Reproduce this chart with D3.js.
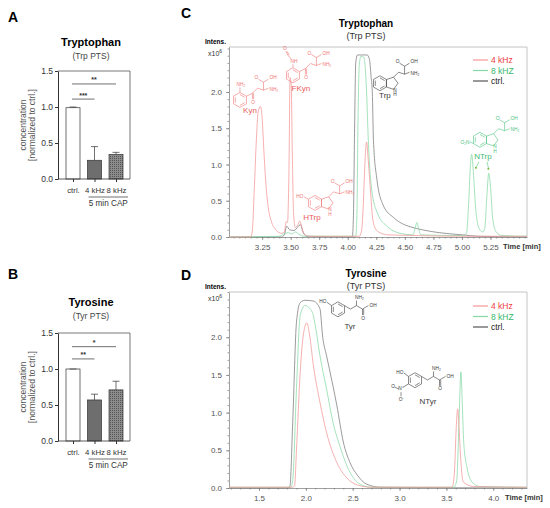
<!DOCTYPE html>
<html>
<head>
<meta charset="utf-8">
<script src="https://cdn.jsdelivr.net/npm/d3@7"></script>
<style>
  body { margin: 0; background: #fff; }
  svg { display: block; }
  text { font-family: "Liberation Sans", Arial, sans-serif; }
</style>
</head>
<body>
<div id="chart"></div>
<script>
const W = 550, H = 508;

// ---- bar panels (A, B) ----
const barCats = ['ctrl.', '4 kHz', '8 kHz'];
const trpBarMean = [0.99, 0.26, 0.34];
const trpBarTop = [1.0, 0.45, 0.37];
const tyrBarMean = [1.0, 0.57, 0.71];
const tyrBarTop = [1.0, 0.65, 0.83];
const barTicks = [0, 0.5, 1.0, 1.5];
const trpSig = [
  {from: 'ctrl.', to: '8 kHz', level: 1.32, label: '**'},
  {from: 'ctrl.', to: '4 kHz', level: 1.11, label: '***'}
];
const tyrSig = [
  {from: 'ctrl.', to: '8 kHz', level: 1.31, label: '*'},
  {from: 'ctrl.', to: '4 kHz', level: 1.14, label: '**'}
];

// ---- chromatograms (C, D): [time min, intensity x10^6] ----
const seriesNames = ['4 kHz', '8 kHZ', 'ctrl.'];
const trpTicksX = [3.25, 3.5, 3.75, 4.0, 4.25, 4.5, 4.75, 5.0, 5.25];
const tyrTicksX = [1.5, 2.0, 2.5, 3.0, 3.5, 4.0];
const intensTicks = [0, 0.5, 1.0, 1.5, 2.0];

const trp4kHz = [[2.96,0],[3.15,0],[3.165,0.1],[3.18,0.6],[3.20,1.35],[3.215,1.72],[3.235,1.8],[3.25,1.65],
  [3.265,1.2],[3.28,0.8],[3.30,0.45],[3.33,0.22],[3.37,0.1],[3.42,0.05],[3.445,0.07],[3.46,0.21],[3.472,0.2],
  [3.485,0.9],[3.495,2.2],[3.505,2.1],[3.515,1.1],[3.525,0.35],[3.54,0.13],[3.56,0.16],[3.58,0.22],[3.60,0.12],
  [3.62,0.04],[3.66,0.01],[4.10,0.01],[4.12,0.08],[4.135,0.4],[4.15,1.0],[4.165,1.31],[4.18,1.05],[4.20,0.62],
  [4.215,0.3],[4.235,0.14],[4.27,0.07],[4.35,0.03],[4.6,0.02],[5.0,0.01],[5.57,0.01]];
const trp8kHz = [[2.96,0],[3.40,0.01],[3.44,0.04],[3.48,0.06],[3.51,0.04],[3.54,0.07],[3.57,0.04],[3.62,0.01],
  [4.07,0.01],[4.08,0.3],[4.09,1.6],[4.10,2.35],[4.115,2.49],[4.14,2.48],[4.155,2.3],[4.165,2.0],[4.18,1.34],
  [4.21,0.65],[4.26,0.33],[4.35,0.14],[4.46,0.05],[4.57,0.03],[4.59,0.12],[4.605,0.2],[4.62,0.12],[4.64,0.03],
  [5.0,0.02],[5.04,0.05],[5.06,0.5],[5.075,1.0],[5.085,1.14],[5.10,0.9],[5.12,0.4],[5.15,0.12],[5.18,0.07],
  [5.20,0.12],[5.22,0.6],[5.235,0.88],[5.25,0.7],[5.27,0.25],[5.30,0.07],[5.35,0.02],[5.57,0.01]];
const trpCtrl = [[2.96,0],[3.42,0],[3.445,0.03],[3.465,0.15],[3.49,0.1],[3.53,0.09],[3.585,0.17],[3.61,0.06],
  [3.64,0.01],[4.04,0],[4.05,0.3],[4.06,1.5],[4.07,2.4],[4.085,2.51],[4.17,2.51],[4.19,2.45],[4.205,2.2],
  [4.215,2.0],[4.225,1.34],[4.255,0.8],[4.31,0.44],[4.40,0.27],[4.47,0.19],[4.55,0.14],[4.65,0.1],[4.8,0.06],
  [5.0,0.03],[5.15,0.01],[5.57,0]];

const tyr4kHz = [[1.18,0.01],[1.86,0.01],[1.88,0.03],[1.90,0.5],[1.94,1.54],[1.97,2.0],[2.01,2.19],[2.04,2.03],
  [2.08,1.63],[2.15,1.14],[2.22,0.74],[2.33,0.34],[2.44,0.13],[2.55,0.04],[2.7,0.01],[3.56,0.01],[3.585,0.2],
  [3.605,0.8],[3.62,1.05],[3.635,0.8],[3.65,0.44],[3.68,0.08],[3.79,0.02],[4.36,0.01]];
const tyr8kHz = [[1.18,0.01],[1.84,0.01],[1.86,0.1],[1.90,1.32],[1.94,2.29],[1.99,2.42],[2.07,2.33],[2.10,2.16],
  [2.15,1.76],[2.22,1.32],[2.29,0.87],[2.37,0.53],[2.47,0.21],[2.58,0.05],[2.7,0.01],[3.58,0.01],[3.61,0.1],
  [3.635,0.9],[3.655,1.54],[3.67,1.1],[3.685,0.6],[3.72,0.27],[3.78,0.07],[3.86,0.02],[4.36,0.01]];
const tyrCtrl = [[1.18,0],[1.80,0],[1.83,0.02],[1.86,0.87],[1.90,2.2],[1.94,2.46],[1.99,2.49],[2.08,2.48],
  [2.15,2.38],[2.18,2.0],[2.22,1.76],[2.28,1.41],[2.33,1.1],[2.40,0.61],[2.47,0.34],[2.55,0.17],[2.65,0.05],
  [2.8,0.01],[4.36,0]];

const lineColors = ['#f39696', '#86d8a6', '#7a7a7a'];
const legendText = ['#ee3b3b', '#35b86a', '#222'];

const svg = d3.select('#chart').append('svg').attr('width', W).attr('height', H);

const pat = svg.append('defs').append('pattern').attr('id', 'dots')
  .attr('width', 2).attr('height', 2).attr('patternUnits', 'userSpaceOnUse');
pat.append('rect').attr('width', 2).attr('height', 2).attr('fill', '#8c8c8c');
pat.append('rect').attr('width', 1).attr('height', 1).attr('fill', '#555');

function letter(t, x, y) {
  svg.append('text').attr('x', x).attr('y', y).attr('font-size', 14).attr('font-weight', 'bold').text(t);
}
letter('A', 8, 22); letter('B', 8, 279); letter('C', 181, 18); letter('D', 181, 280);

function barPanel(opt) {
  const g = svg.append('g');
  const left = 58, right = 130, bw = 14;
  const y = d3.scaleLinear().domain([0, 1.5]).range([opt.bottom, opt.bottom - 108]);
  const x = d3.scalePoint().domain(barCats).range([73, 116]);
  const base = y(0);

  g.append('text').attr('x', 91).attr('y', opt.titleY).attr('text-anchor', 'middle')
    .attr('font-size', 11).attr('font-weight', 'bold').text(opt.title);
  g.append('text').attr('x', 91).attr('y', opt.titleY + 13).attr('text-anchor', 'middle')
    .attr('font-size', 8.5).attr('fill', '#444').text(opt.sub);

  g.append('path').attr('d', `M${left},${y(1.5)}H${right}V${base}`)
    .attr('fill', 'none').attr('stroke', '#555').attr('stroke-width', 0.8);

  const rows = barCats.map((c, i) => ({c, m: opt.mean[i], e: opt.top[i]}));
  const fills = ['#fff', '#6e6e6e', 'url(#dots)'];
  g.selectAll('rect.bar').data(rows).join('rect')
    .attr('x', d => x(d.c) - bw / 2).attr('width', bw)
    .attr('y', d => y(d.m)).attr('height', d => base - y(d.m))
    .attr('fill', (d, i) => fills[i]).attr('stroke', '#333').attr('stroke-width', 0.7);
  g.selectAll('line.err').data(rows).join('line')
    .attr('x1', d => x(d.c)).attr('x2', d => x(d.c))
    .attr('y1', d => y(d.m)).attr('y2', d => y(d.e)).attr('stroke', '#333').attr('stroke-width', 0.7);
  g.selectAll('line.cap').data(rows).join('line')
    .attr('x1', d => x(d.c) - 3.5).attr('x2', d => x(d.c) + 3.5)
    .attr('y1', d => y(d.e)).attr('y2', d => y(d.e)).attr('stroke', '#333').attr('stroke-width', 0.7);

  const ya = g.append('g').attr('transform', `translate(${left},0)`)
    .call(d3.axisLeft(y).tickValues(barTicks).tickFormat(d3.format('.1f')).tickSize(3).tickSizeOuter(0).tickPadding(2));
  const xa = g.append('g').attr('transform', `translate(0,${base})`)
    .call(d3.axisBottom(x).tickSize(3).tickPadding(5));
  xa.select('.domain').remove();
  g.append('line').attr('x1', left).attr('x2', right).attr('y1', base).attr('y2', base)
    .attr('stroke', '#333').attr('stroke-width', 0.8);
  ya.selectAll('text').attr('font-size', 8.5).attr('fill', '#333');
  xa.selectAll('text').attr('font-size', 7.8).attr('fill', '#333');
  [ya, xa].forEach(a => a.selectAll('line,path').attr('stroke', '#333'));

  g.append('line').attr('x1', x('4 kHz') - 6).attr('x2', x('8 kHz') + 12)
    .attr('y1', base + 18).attr('y2', base + 18).attr('stroke', '#333').attr('stroke-width', 0.7);
  g.append('text').attr('x', (x('4 kHz') + x('8 kHz')) / 2 + 3).attr('y', base + 27)
    .attr('text-anchor', 'middle').attr('font-size', 8.2).attr('fill', '#333').text('5 min CAP');

  const mid = (y(0) + y(1.5)) / 2;
  g.append('text').attr('transform', `translate(26,${mid}) rotate(-90)`).attr('text-anchor', 'middle')
    .attr('font-size', 8.5).attr('fill', '#555').text('concentration');
  g.append('text').attr('transform', `translate(35,${mid}) rotate(-90)`).attr('text-anchor', 'middle')
    .attr('font-size', 8.5).attr('fill', '#555').text('[normalized to ctrl.]');

  opt.sig.forEach(s => {
    const x1 = x(s.from) - 1, x2 = x(s.to);
    g.append('line').attr('x1', x1).attr('x2', x2).attr('y1', y(s.level)).attr('y2', y(s.level))
      .attr('stroke', '#333').attr('stroke-width', 0.7);
    g.append('text').attr('x', (x1 + x2) / 2).attr('y', y(s.level) - 1.5).attr('text-anchor', 'middle')
      .attr('font-size', 7).attr('font-weight', 'bold').attr('fill', '#333').text(s.label);
  });
}

barPanel({title: 'Tryptophan', sub: '(Trp PTS)', titleY: 46, bottom: 179,
  mean: trpBarMean, top: trpBarTop, sig: trpSig});
barPanel({title: 'Tyrosine', sub: '(Tyr PTS)', titleY: 306, bottom: 441,
  mean: tyrBarMean, top: tyrBarTop, sig: tyrSig});

// ---- small structure drawings ----
const R = 7.5;
function hexPts(cx, cy) {
  return d3.range(6).map(k => {
    const a = (-90 + 60 * k) * Math.PI / 180;
    return [cx + R * Math.cos(a), cy + R * Math.sin(a)];
  });
}
function pentPts(cx, cy) {
  const pc = cx + 0.866 * R + 0.688 * R, pr = 0.851 * R;
  return [0, 72, 144, 216, 288].map(d => [pc + pr * Math.cos(d * Math.PI / 180), cy + pr * Math.sin(d * Math.PI / 180)]);
}
function mol(g, ax, ay, color) {
  const m = g.append('g').attr('transform', `translate(${ax},${ay})`);
  const api = {
    ring(pts, inner) {
      m.append('path').attr('d', d3.line()(pts) + 'Z').attr('fill', 'none')
        .attr('stroke', color).attr('stroke-width', 0.6);
      if (inner) {
        const c = d3.polygonCentroid(pts);
        [0, 2, 4].forEach(k => {
          const p = pts[k], q = pts[(k + 1) % pts.length];
          const s = t => [c[0] + (t[0] - c[0]) * 0.72, c[1] + (t[1] - c[1]) * 0.72];
          api.bond(...s(p), ...s(q));
        });
      }
    },
    bond(x1, y1, x2, y2, dbl) {
      m.append('line').attr('x1', x1).attr('y1', y1).attr('x2', x2).attr('y2', y2)
        .attr('stroke', color).attr('stroke-width', 0.6);
      if (dbl) {
        m.append('line').attr('x1', x1 + 1.2).attr('y1', y1).attr('x2', x2 + 1.2).attr('y2', y2)
          .attr('stroke', color).attr('stroke-width', 0.6);
      }
    },
    atom(t, x, y, anchor) {
      m.append('text').attr('x', x).attr('y', y).attr('text-anchor', anchor || 'middle')
        .attr('font-size', 4.8).attr('fill', color).text(t);
    },
    name(t, x, y, c) {
      m.append('text').attr('x', x).attr('y', y).attr('text-anchor', 'middle')
        .attr('font-family', '"Liberation Serif", serif').attr('font-size', 8).attr('fill', c || color).text(t);
    }
  };
  return api;
}
function aaTail(a, px, py) {
  const c1 = [px + 5, py - 5], ca = [c1[0] + 6, c1[1] + 2], cc = [ca[0], ca[1] - 8];
  a.bond(px, py, ...c1); a.bond(...c1, ...ca);
  a.bond(...ca, ca[0] + 5, ca[1] - 2); a.atom('NH\u2082', ca[0] + 6, ca[1] + 0.5, 'start');
  a.bond(...ca, ...cc);
  a.bond(...cc, cc[0] - 5, cc[1] - 3); a.atom('O', cc[0] - 7, cc[1] - 3);
  a.bond(...cc, cc[0] + 5, cc[1] - 3); a.atom('OH', cc[0] + 6, cc[1] - 3, 'start');
}
function kynTail(a, px, py) {
  const ck = [px + 6, py - 3];
  a.bond(px, py, ...ck);
  a.bond(...ck, ck[0], ck[1] + 6, true); a.atom('O', ck[0] + 0.6, ck[1] + 10.5);
  aaTail(a, ...ck);
}
function tyrTail(a, px, py) {
  const c1 = [px + 6, py + 3.5], ca = [c1[0] + 6, c1[1] - 3.5], cc = [ca[0] + 6, ca[1] + 3.5];
  a.bond(px, py, ...c1); a.bond(...c1, ...ca);
  a.bond(...ca, ca[0], ca[1] - 5); a.atom('NH\u2082', ca[0] + 3, ca[1] - 6.5);
  a.bond(...ca, ...cc);
  a.bond(...cc, cc[0] + 6, cc[1] - 3.5); a.atom('OH', cc[0] + 7, cc[1] - 2, 'start');
  a.bond(...cc, cc[0], cc[1] + 6, true); a.atom('O', cc[0] + 0.6, cc[1] + 10.5);
}
function indole(a, h) {
  a.ring(h, true);
  const p = pentPts(0, 0);
  a.ring(p);
  a.atom('N', p[1][0] + 1.5, p[1][1] + 2.5);
  a.atom('H', p[1][0] + 1.5, p[1][1] + 7);
  return p;
}

// ---- chromatogram panels ----
function chromPanel(opt) {
  const g = svg.append('g');
  const left = 229, right = 527;
  const x = d3.scaleLinear().domain(opt.xDomain).range([left, right]);
  const y = d3.scaleLinear().domain([0, opt.yMax]).range([opt.bottom, opt.top]);

  g.append('text').attr('x', 366).attr('y', opt.titleY).attr('text-anchor', 'middle')
    .attr('font-size', 10).attr('font-weight', 'bold').text(opt.title);
  g.append('text').attr('x', 366).attr('y', opt.titleY + 11.5).attr('text-anchor', 'middle')
    .attr('font-size', 9).attr('fill', '#333').text(opt.sub);

  g.append('path').attr('d', `M${left},${opt.top}H${right}V${opt.bottom}`)
    .attr('fill', 'none').attr('stroke', '#b5b5b5').attr('stroke-width', 0.8);

  const ya = g.append('g').attr('transform', `translate(${left},0)`)
    .call(d3.axisLeft(y).tickValues(intensTicks).tickFormat(d3.format('.1f')).tickSize(3).tickSizeOuter(0).tickPadding(4));
  g.append('g').attr('transform', `translate(${left},0)`)
    .call(d3.axisLeft(y).tickValues(y.ticks(26)).tickFormat('').tickSize(1.5).tickSizeOuter(0))
    .call(a => a.select('.domain').remove());
  const xa = g.append('g').attr('transform', `translate(0,${opt.bottom})`)
    .call(d3.axisBottom(x).tickValues(opt.xTicks).tickFormat(d3.format(opt.fmt)).tickSize(3).tickSizeOuter(0).tickPadding(4));
  g.append('g').attr('transform', `translate(0,${opt.bottom})`)
    .call(d3.axisBottom(x).tickValues(x.ticks(opt.minor)).tickFormat('').tickSize(1.5).tickSizeOuter(0))
    .call(a => a.select('.domain').remove());
  [ya, xa].forEach(a => a.selectAll('text').attr('font-size', 8).attr('fill', '#555'));
  g.selectAll('.tick line, .domain').attr('stroke', '#777').attr('stroke-width', 0.7);

  g.append('text').attr('x', 205).attr('y', opt.top - 3).attr('font-size', 6.5).attr('font-weight', 'bold').text('Intens.');
  const e = g.append('text').attr('x', 208).attr('y', opt.top + 9).attr('font-size', 7).attr('fill', '#333').text('x10');
  e.append('tspan').attr('dy', -3.5).attr('font-size', 5).text('6');
  g.append('text').attr('x', opt.timeX).attr('y', opt.bottom + 12).attr('font-size', 7.5)
    .attr('font-weight', 'bold').attr('fill', '#333').text('Time [min]');

  const line = d3.line().x(d => x(d[0])).y(d => y(d[1])).curve(d3.curveMonotoneX);
  [2, 1, 0].forEach(i => {
    g.append('path').attr('d', line(opt.series[i])).attr('fill', 'none')
      .attr('stroke', lineColors[i]).attr('stroke-width', 0.75);
  });

  seriesNames.forEach((n, i) => {
    const ly = opt.legendY + i * 10.5;
    g.append('line').attr('x1', 473).attr('x2', 488).attr('y1', ly).attr('y2', ly)
      .attr('stroke', i === 2 ? '#555' : lineColors[i]).attr('stroke-width', 1.2);
    g.append('text').attr('x', 491).attr('y', ly + 3).attr('font-size', 8.5).attr('fill', legendText[i]).text(n);
  });
  return {g, x, y};
}

const C = chromPanel({title: 'Tryptophan', sub: '(Trp PTS)', titleY: 27, top: 47, bottom: 237,
  xDomain: [2.96, 5.57], yMax: 2.62, xTicks: trpTicksX, fmt: '.2f', minor: 50, timeX: 503, legendY: 60,
  series: [trp4kHz, trp8kHz, trpCtrl]});
const D = chromPanel({title: 'Tyrosine', sub: '(Tyr PTS)', titleY: 277, top: 292, bottom: 488,
  xDomain: [1.18, 4.36], yMax: 2.6, xTicks: tyrTicksX, fmt: '.1f', minor: 30, timeX: 505, legendY: 306,
  series: [tyr4kHz, tyr8kHz, tyrCtrl]});

const red = '#ef7474', green = '#4cc27f', dark = '#3a3a3a';

// Kyn
{
  const a = mol(C.g, C.x(3.056), C.y(1.89), red), h = hexPts(0, 0);
  a.ring(h, true);
  a.bond(...h[0], h[0][0], h[0][1] - 5); a.atom('NH\u2082', 1, h[0][1] - 6.5);
  kynTail(a, ...h[1]);
  a.name('Kyn', 10, 13, '#e85a5a');
}
// FKyn
{
  const a = mol(C.g, C.x(3.52), C.y(2.23), red), h = hexPts(0, 0);
  a.ring(h, true);
  a.bond(...h[0], 0, -11); a.atom('NH', 1, -12.5);
  a.bond(-1.5, -16, -5, -20); a.bond(-5, -20, -7, -24, true); a.atom('O', -8, -25.5);
  kynTail(a, ...h[1]);
  a.name('FKyn', 8, 16, '#e85a5a');
}
// HTrp
{
  const a = mol(C.g, C.x(3.713), C.y(0.47), red), h = hexPts(0, 0);
  const p = indole(a, h);
  a.bond(...h[5], -11, -6); a.atom('HO', -11.5, -4.5, 'end');
  aaTail(a, ...p[4]);
  a.name('HTrp', -3, 17, '#e85a5a');
}
// Trp
{
  const a = mol(C.g, C.x(4.282), C.y(2.12), dark), h = hexPts(0, 0);
  const p = indole(a, h);
  aaTail(a, ...p[4]);
  a.name('Trp', 5, 15);
}
// NTrp
{
  const a = mol(C.g, C.x(5.158), C.y(1.34), green), h = hexPts(0, 0);
  const p = indole(a, h);
  a.bond(...h[4], -10, 2); a.atom('O\u2082N', -10.5, 4.5, 'end');
  aaTail(a, ...p[4]);
  a.name('NTrp', 3, 19, '#3dba72');
  a.bond(-1, 22, -3.5, 27); a.bond(7, 22, 8.5, 28);
  C.g.append('rect').attr('x', C.x(5.158) - 5).attr('y', C.y(1.34) + 27).attr('width', 1.8).attr('height', 1.8).attr('fill', '#7ab83a');
  C.g.append('rect').attr('x', C.x(5.158) + 7.5).attr('y', C.y(1.34) + 28).attr('width', 1.8).attr('height', 1.8).attr('fill', '#7ab83a');
}
// Tyr
{
  const a = mol(D.g, D.x(2.343), D.y(2.37), dark), h = hexPts(0, 0);
  a.ring(h, true);
  a.bond(...h[5], -11, -7); a.atom('HO', -11.5, -6.5, 'end');
  tyrTail(a, ...h[1]);
  a.name('Tyr', 12, 20);
}
// NTyr
{
  const a = mol(D.g, D.x(3.165), D.y(1.43), dark), h = hexPts(0, 0);
  a.ring(h, true);
  a.bond(...h[5], -11, -7); a.atom('HO', -11.5, -6.5, 'end');
  a.bond(...h[4], -12, 7); a.atom('N\u207A', -14, 10);
  a.bond(-16, 9, -20, 7); a.atom('O', -22, 8);
  a.bond(-14, 12, -14, 16); a.atom('O\u207B', -13.5, 21);
  tyrTail(a, ...h[1]);
  a.name('NTyr', 13, 24);
}
</script>
</body>
</html>
